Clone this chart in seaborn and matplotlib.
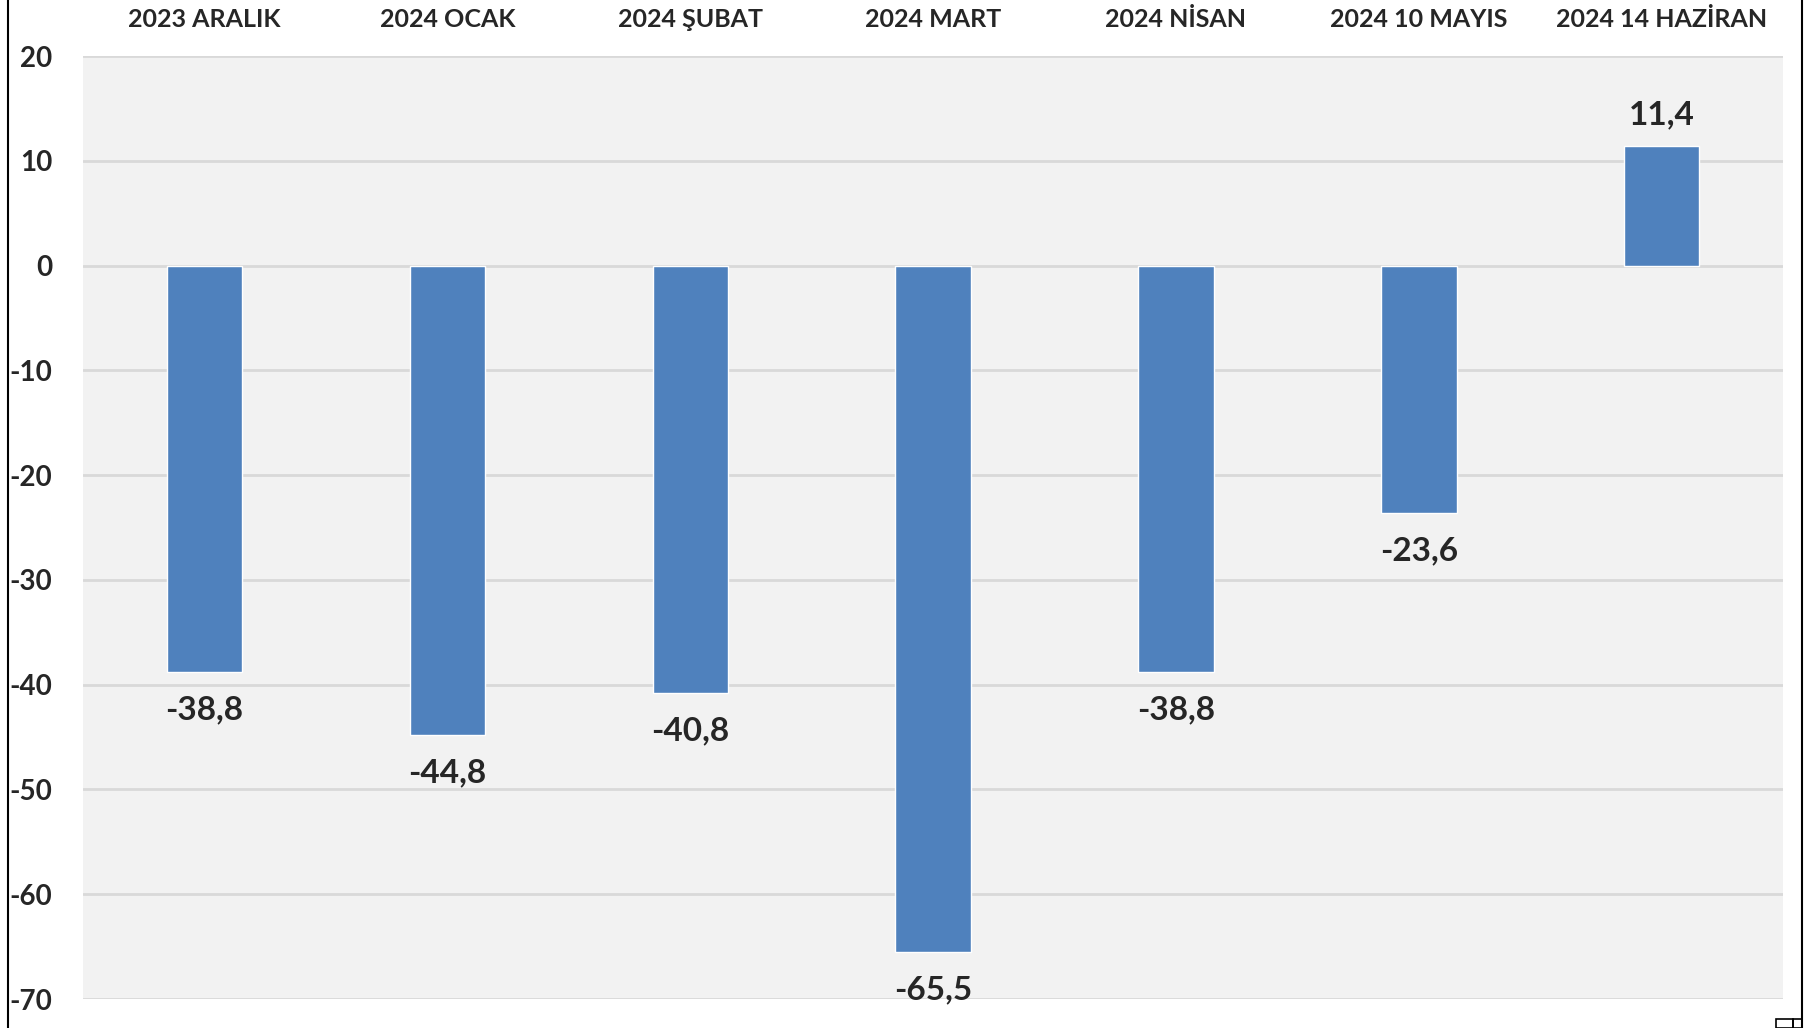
import matplotlib
matplotlib.use("Agg")
import matplotlib.pyplot as plt
from matplotlib.lines import Line2D
from matplotlib.patches import Rectangle
import seaborn as sns

# Veri
donemler = ['2023 ARALIK', '2024 OCAK', '2024 ŞUBAT', '2024 MART',
            '2024 NİSAN', '2024 10 MAYIS', '2024 14 HAZİRAN']
degerler = [-38.8, -44.8, -40.8, -65.5, -38.8, -23.6, 11.4]
y_ticks = [20, 10, 0, -10, -20, -30, -40, -50, -60, -70]

sns.set_style('white')
plt.rcParams['font.family'] = ['Lato', 'DejaVu Sans']
plt.rcParams['font.weight'] = 'bold'

fig = plt.figure(figsize=(18.14, 10.28), dpi=100)
ax = fig.add_axes([0.0458, 0.0282, 0.983 - 0.0458, 0.9455 - 0.0282])
ax.set_facecolor('#F2F2F2')

sns.barplot(x=donemler, y=degerler, color='#4F81BD', width=0.31,
            saturation=1, ax=ax, zorder=3)

ax.set_ylim(-70, 20)
ax.set_yticks(y_ticks)
ax.set_yticklabels([str(t) for t in y_ticks], fontsize=20, fontweight='bold')
ax.yaxis.grid(True, color='#D9D9D9', linewidth=2, zorder=0)
ax.set_axisbelow(True)
ax.tick_params(axis='y', length=0, pad=22)

ax.xaxis.tick_top()
ax.tick_params(axis='x', length=0, pad=18)
for lbl in ax.get_xticklabels():
    lbl.set_fontsize(18)
    lbl.set_fontweight('bold')
ax.set_xlabel('')
ax.set_ylabel('')
for s in ax.spines.values():
    s.set_visible(False)

# Değer etiketleri (ondalık virgül) - negatifler biraz daha aşağıda
etiketler = [f'{v:.1f}'.replace('.', ',') for v in degerler]
ax.bar_label(ax.containers[0],
             labels=[e if v < 0 else '' for e, v in zip(etiketler, degerler)],
             padding=17, fontsize=24, fontweight='bold')
ax.bar_label(ax.containers[0],
             labels=[e if v >= 0 else '' for e, v in zip(etiketler, degerler)],
             padding=12, fontsize=24, fontweight='bold')

# Çerçeve çizgileri
fig.add_artist(Line2D([8 / 1814, 8 / 1814], [0, 1], color='black', lw=1.5))
fig.add_artist(Line2D([1802 / 1814, 1802 / 1814], [0, 1], color='black', lw=1.5))
fig.add_artist(Rectangle((1776 / 1814, 0), 17 / 1814, 9 / 1028, fill=False,
                         edgecolor='black', lw=1.2))
fig.add_artist(Rectangle((1793 / 1814, 0), 9 / 1814, 9 / 1028, fill=False,
                         edgecolor='black', lw=1.2))

fig.savefig('out.png', dpi=100)
